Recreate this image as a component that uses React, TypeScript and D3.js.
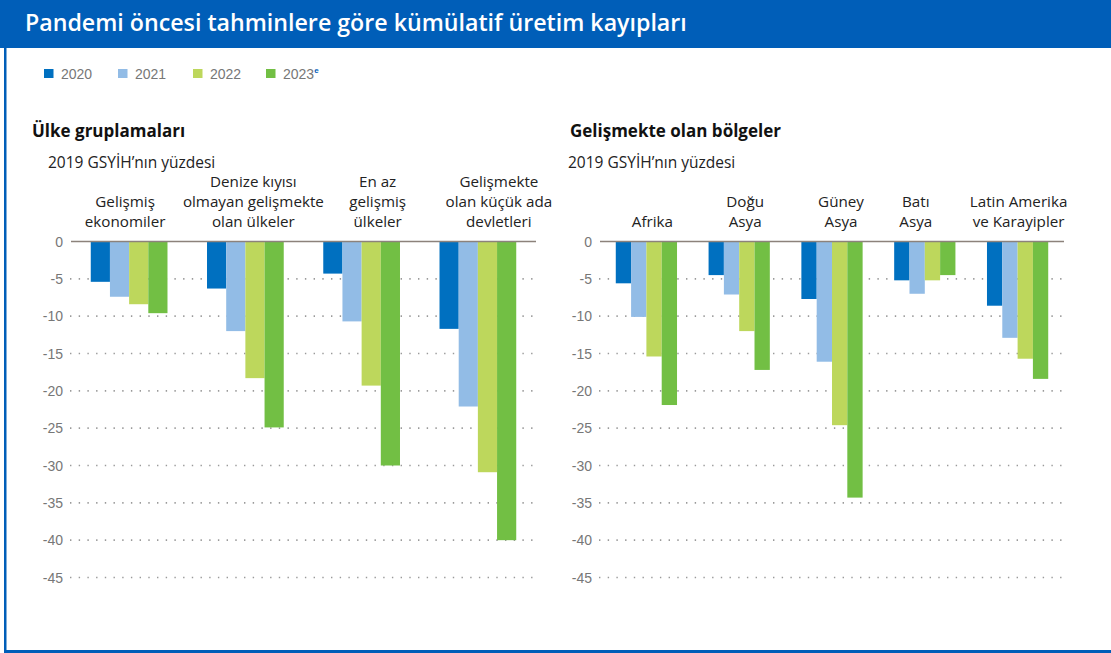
import React from 'react';
import * as d3 from 'd3';

const years = ['2020', '2021', '2022', '2023'];
const colors = ['#0070C0', '#92BCE6', '#BDD75C', '#72BF44'];

const leftCategories = [
  ['Gelişmiş', 'ekonomiler'],
  ['Denize kıyısı', 'olmayan gelişmekte', 'olan ülkeler'],
  ['En az', 'gelişmiş', 'ülkeler'],
  ['Gelişmekte', 'olan küçük ada', 'devletleri'],
];
const left2020 = [-5.4, -6.3, -4.3, -11.7];
const left2021 = [-7.4, -12.0, -10.7, -22.1];
const left2022 = [-8.4, -18.3, -19.3, -30.9];
const left2023 = [-9.6, -24.9, -30.0, -40.0];

const rightCategories = [
  ['Afrika'],
  ['Doğu', 'Asya'],
  ['Güney', 'Asya'],
  ['Batı', 'Asya'],
  ['Latin Amerika', 've Karayipler'],
];
const right2020 = [-5.6, -4.5, -7.7, -5.2, -8.6];
const right2021 = [-10.1, -7.1, -16.1, -7.0, -12.9];
const right2022 = [-15.4, -12.0, -24.6, -5.2, -15.7];
const right2023 = [-21.9, -17.2, -34.3, -4.5, -18.4];

const yTicks = [0, -5, -10, -15, -20, -25, -30, -35, -40, -45];

const leftLabelShift = [-4, 8, 16, 21];
const rightLabelShift = [6, 6, 9, -9, 1];

const W = 1111;
const H = 653;
const BLUE = '#005EB8';
const narrow = "'Liberation Sans Narrow', 'Arial Narrow', sans-serif";
const body = "'Open Sans', sans-serif";

const y = d3.scaleLinear().domain([0, -45]).range([241.5, 577.5]);

type PanelProps = {
  x0: number;
  x1: number;
  labelX: number;
  titleX: number;
  subX: number;
  title: string;
  categories: string[][];
  series: number[][];
  shifts: number[];
};

function Panel({ x0, x1, labelX, titleX, subX, title, categories, series, shifts }: PanelProps) {
  const x = d3
    .scaleBand<number>()
    .domain(categories.map((_, i) => i))
    .range([x0, x1])
    .paddingInner(0.34)
    .paddingOuter(0.17);
  const inner = d3
    .scaleBand<number>()
    .domain(years.map((_, i) => i))
    .range([0, x.bandwidth()]);
  return (
    <g>
      <text x={titleX} y={137} fontFamily={body} fontWeight={700} fontSize={17} fill="#111">
        {title}
      </text>
      <text x={subX} y={168} fontFamily={body} fontSize={15.5} fill="#222">
        2019 GSYİH’nın yüzdesi
      </text>
      {yTicks.map((t) => (
        <g key={t}>
          <text
            x={labelX}
            y={y(t) + 5}
            textAnchor="end"
            fontFamily={narrow}
            fontSize={14}
            fill="#777"
          >
            {t}
          </text>
          {t !== 0 && (
            <line
              x1={x0 - 1}
              x2={x1 - 1}
              y1={y(t)}
              y2={y(t)}
              stroke="#9a9a9a"
              strokeWidth={1.6}
              strokeDasharray="1.4 7.3"
            />
          )}
        </g>
      ))}
      {categories.map((lines, i) => {
        const cx = (x(i) as number) + x.bandwidth() / 2 + shifts[i];
        const n = lines.length;
        return (
          <text key={i} textAnchor="middle" fontFamily={body} fontSize={15.2} fill="#222">
            {lines.map((l, k) => (
              <tspan key={k} x={cx} y={227 - (n - 1 - k) * 20}>
                {l}
              </tspan>
            ))}
          </text>
        );
      })}
      {series.map((vals, s) =>
        vals.map((v, i) => (
          <rect
            key={`${s}-${i}`}
            x={(x(i) as number) + (inner(s) as number)}
            y={y(0)}
            width={inner.bandwidth()}
            height={y(v) - y(0)}
            fill={colors[s]}
          />
        ))
      )}
      <line x1={x0} x2={x1} y1={y(0)} y2={y(0)} stroke="#8c827b" strokeWidth={1.5} />
    </g>
  );
}

export default function App() {
  const legendX = [44, 118, 193, 266];
  return (
    <svg
      width={W}
      height={H}
      viewBox={`0 0 ${W} ${H}`}
      style={{ position: 'absolute', left: 0, top: 0, background: '#fff' }}
    >
      <rect x={0} y={0} width={W} height={48} fill={BLUE} />
      <rect x={4} y={48} width={2.5} height={H - 48} fill={BLUE} />
      <rect x={4} y={650} width={W - 4} height={3} fill={BLUE} />
      <text x={25} y={31} fontFamily="'Open Sans', sans-serif" fontWeight={600} fontSize={23.2} fill="#fff">
        Pandemi öncesi tahminlere göre kümülatif üretim kayıpları
      </text>
      {years.map((yr, i) => (
        <g key={yr}>
          <rect x={legendX[i]} y={69} width={9.5} height={9} fill={colors[i]} />
          <text x={legendX[i] + 17} y={78.5} fontFamily={narrow} fontSize={14} fill="#777">
            {yr}
            {i === 3 && (
              <tspan dy={-6} fontSize={8} fontWeight={700} fill={BLUE}>
                e
              </tspan>
            )}
          </text>
        </g>
      ))}
      <Panel
        x0={71}
        x1={536}
        labelX={63}
        titleX={32}
        subX={48}
        title="Ülke gruplamaları"
        categories={leftCategories}
        series={[left2020, left2021, left2022, left2023]}
        shifts={leftLabelShift}
      />
      <Panel
        x0={600}
        x1={1064}
        labelX={592}
        titleX={570}
        subX={568}
        title="Gelişmekte olan bölgeler"
        categories={rightCategories}
        series={[right2020, right2021, right2022, right2023]}
        shifts={rightLabelShift}
      />
    </svg>
  );
}
